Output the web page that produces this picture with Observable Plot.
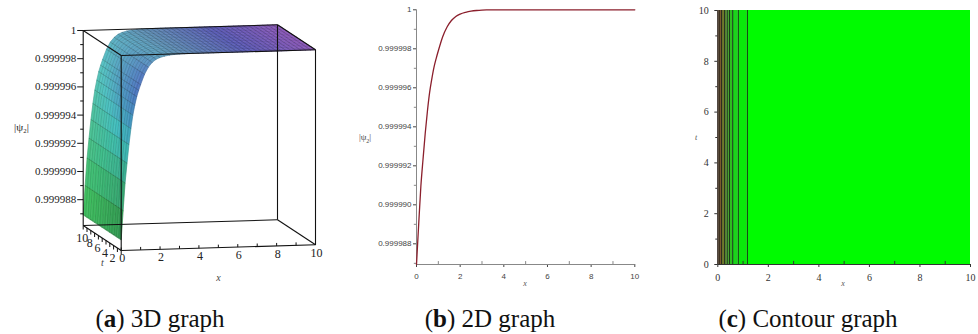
<!DOCTYPE html>
<html><head><meta charset="utf-8">
<script src="https://cdn.jsdelivr.net/npm/d3@7"></script>
<script src="https://cdn.jsdelivr.net/npm/@observablehq/plot@0.6"></script>
<style>
body{margin:0;background:#fff;}
#fig{position:relative;width:978px;height:334px;overflow:hidden;background:#fff;}
.panel{position:absolute;top:0;}
#pa svg text, #pc svg text{font-family:"Liberation Serif" !important;}
#pb svg text{font-family:"Liberation Sans" !important;}
.cap{position:absolute;top:306px;font-family:"Liberation Serif";font-size:25px;line-height:25px;color:#111;white-space:nowrap;transform:translateX(-50%);}
.ttl{position:absolute;font-family:"Liberation Serif";font-style:italic;color:#555;white-space:nowrap;transform:translate(-50%,-50%);}
</style></head><body>
<div id="fig">
 <div class="panel" id="pa" style="left:0px"></div>
 <div class="panel" id="pb" style="left:330px"></div>
 <div class="panel" id="pc" style="left:660px"></div>
 <div class="ttl" style="left:365px;top:138px;font-style:normal;font-size:9px;color:#444">|ψ<sub style="font-size:6px">2</sub>|</div>
 <div class="ttl" style="left:525px;top:283px;font-size:8px">x</div>
 <div class="ttl" style="left:843px;top:283px;font-size:8px">x</div>
 <div class="ttl" style="left:696px;top:137px;font-size:8px">t</div>
 <div class="cap" style="left:160px">(<b>a</b>) 3D graph</div>
 <div class="cap" style="left:490px">(<b>b</b>) 2D graph</div>
 <div class="cap" style="left:808px">(<b>c</b>) Contour graph</div>
</div>
<script>
// ---- data ----
const xVals = [0,0.1,0.2,0.3,0.4,0.5,0.6,0.7,0.8,0.9,1,1.2,1.4,1.6,1.8,2,2.25,2.5,2.75,3,3.25,3.5,3.75,4,4.25,4.5,4.75,5,5.25,5.5,5.75,6,6.25,6.5,6.75,7,7.25,7.5,7.75,8,8.25,8.5,8.75,9,9.25,9.5,9.75,10];
const psiVals = [0.99998694,0.99998900,0.99999095,0.99999235,0.99999367,0.99999480,0.99999575,0.99999645,0.99999705,0.99999750,0.99999790,0.99999862,0.99999912,0.99999945,0.99999966,0.99999978,
 0.99999987,0.99999993,0.999999965,0.999999985,0.999999993,0.999999997,
 1,1,1,1,1,1,1,1,1,1,1,1,1,1,1,1,1,1,1,1,1,1,1,1,1,1];
const psiTicks = [0.999988,0.99999,0.999992,0.999994,0.999996,0.999998,1];
const psiMinor = [0.999987,0.999989,0.999991,0.999993,0.999995,0.999997,0.999999];
const xTicks = [0,2,4,6,8,10];
const xMinor = [1,3,5,7,9];
const tTicks = [0,2,4,6,8,10];
const tLabels3d = [2,4,6,8,10];
const contourX = [0.055,0.15,0.27,0.37,0.46,0.59,0.81,1.17];
const bandColors = ["#6a4426","#7b5a2e","#6f7a2c","#57922a","#41a826","#2dbe20","#1ad41a","#0ae80a","#00fb00"];

const fmt = v => v === 1 ? "1" : v.toFixed(6);
const pts = xVals.map((x,i)=>({x, psi: psiVals[i]}));

// ---------- (a) 3D graph ----------
const P = {ox:120.7, oy:250, sx:19.43, sxy:-0.57, tx:-3.8, ty:-2.5, zs:14.1e6, zlo:0.99998617, zhi:1};
const PX = (x,t)=> P.ox + P.sx*x + P.tx*t;
const PY = (x,t,z)=> P.oy + P.sxy*x + P.ty*t - (z-P.zlo)*P.zs;
function surfColor(x,t,z){
  const zf=(z-P.zlo)/(P.zhi-P.zlo), front=1-t/10;
  const bump=Math.exp(-(((x-0.7)/0.8)**2));
  const h=128+50*zf+9.5*x+55*front*bump*zf;
  const s=0.5-0.12*zf*Math.min(1,x/3)+0.08*Math.min(1,x/10)*zf;
  const l=0.50+0.07*zf-0.12*front*(1-zf);
  return d3.hsl(h,s,l).formatHex();
}
const quads=[]; let qid=0;
const tSteps=d3.range(0,10.001,1);
for(let i=xVals.length-2;i>=0;i--){
  for(let j=tSteps.length-2;j>=0;j--){
    const x0=xVals[i],x1=xVals[i+1],z0=psiVals[i],z1=psiVals[i+1],t0=tSteps[j],t1=tSteps[j+1];
    const c=surfColor((x0+x1)/2,(t0+t1)/2,(z0+z1)/2);
    [[x0,t0,z0],[x1,t0,z1],[x1,t1,z1],[x0,t1,z0]].forEach(([x,t,z])=>quads.push({id:qid,X:PX(x,t),Y:PY(x,t,z),c}));
    qid++;
  }
}
const meshT=[]; d3.range(0,10.001,0.625).forEach((t,k)=>pts.forEach(p=>meshT.push({k,X:PX(p.x,t),Y:PY(p.x,t,p.psi)})));
const meshX=pts.map(p=>({x1:PX(p.x,0),y1:PY(p.x,0,p.psi),x2:PX(p.x,10),y2:PY(p.x,10,p.psi)}));
const C=(x,t,z)=>[PX(x,t),PY(x,t,z)];
const lo=P.zlo, hi=P.zhi;
const edgesDef=[
 [[0,0,lo],[10,0,lo]],[[0,0,hi],[10,0,hi]],[[0,0,lo],[0,0,hi]],[[10,0,lo],[10,0,hi]],
 [[0,10,lo],[10,10,lo]],[[0,10,hi],[10,10,hi]],[[0,10,lo],[0,10,hi]],[[10,10,lo],[10,10,hi]],
 [[0,0,lo],[0,10,lo]],[[10,0,lo],[10,10,lo]],[[0,0,hi],[0,10,hi]],[[10,0,hi],[10,10,hi]]];
const edges=edgesDef.map(([a,b])=>{const p=C(...a),q=C(...b);return {x1:p[0],y1:p[1],x2:q[0],y2:q[1]};});
const zTickMaj=psiTicks.map(v=>({v,X:PX(0,10),Y:PY(0,10,v)}));
const zTickMin=psiMinor.map(v=>({v,X:PX(0,10),Y:PY(0,10,v)}));
const xTick3=d3.range(0,10.001,1).map(x=>({X:PX(x,0),Y:PY(x,0,lo)}));
const xLab3=xTicks.map(x=>({x,X:PX(x,0)+1,Y:PY(x,0,lo)+8}));
const tTick3=d3.range(0,10.001,1).map(t=>({X:PX(0,t),Y:PY(0,t,lo)}));
const tLab3=tLabels3d.map(t=>({t,X:PX(0,t)-1,Y:PY(0,t,lo)+13}));
const plotA=Plot.plot({
  width:330,height:290,margin:0,
  x:{type:"identity",axis:null},y:{type:"identity",axis:null},
  color:{type:"identity"},
  style:{background:"transparent"},
  marks:[
    Plot.line(quads,{x:"X",y:"Y",z:"id",fill:"c",stroke:"c",strokeWidth:0.6,curve:"linear-closed"}),
    Plot.line(meshT,{x:"X",y:"Y",z:"k",stroke:"#000",strokeOpacity:0.18,strokeWidth:0.6,curve:"monotone-x"}),
    Plot.link(meshX,{x1:"x1",y1:"y1",x2:"x2",y2:"y2",stroke:"#000",strokeOpacity:0.35,strokeWidth:0.6}),
    Plot.link(edges,{x1:"x1",y1:"y1",x2:"x2",y2:"y2",stroke:"#111",strokeWidth:1.1}),
    Plot.link(zTickMaj,{x1:d=>d.X-6,x2:"X",y1:"Y",y2:"Y",stroke:"#111"}),
    Plot.link(zTickMin,{x1:d=>d.X-3,x2:"X",y1:"Y",y2:"Y",stroke:"#111"}),
    Plot.text(zTickMaj,{x:d=>d.X-7,y:"Y",text:d=>fmt(d.v),textAnchor:"end",fontSize:11,fill:"#222"}),
    Plot.link(xTick3,{x1:"X",x2:"X",y1:"Y",y2:d=>d.Y-3,stroke:"#111"}),
    Plot.text(xLab3,{x:"X",y:"Y",text:d=>String(d.x),fontSize:12,fill:"#222"}),
    Plot.link(tTick3,{x1:"X",x2:"X",y1:"Y",y2:d=>d.Y+4,stroke:"#111"}),
    Plot.text(tLab3,{x:"X",y:"Y",text:d=>String(d.t),fontSize:12,fill:"#222"}),
    Plot.text(["x"],{x:218,y:277,fontSize:10,fontStyle:"italic",fill:"#444"}),
    Plot.text(["t"],{x:102,y:262,fontSize:10,fontStyle:"italic",fill:"#444"}),
    Plot.text(["|ψ₂|"],{x:21,y:127,fontSize:11,fill:"#222"})
  ]
});
document.getElementById("pa").append(plotA);

// ---------- (b) 2D graph ----------
const yLo=0.99998694;
const plotB=Plot.plot({
  width:330,height:290,marginLeft:86,marginRight:25.7,marginTop:9.3,marginBottom:26,
  style:{background:"transparent",fontSize:"8px",color:"#444"},
  x:{domain:[0,10],ticks:xTicks,tickSize:3,label:null},
  y:{domain:[yLo,1],ticks:psiTicks,tickFormat:fmt,tickSize:3,tickPadding:2,label:null},
  marks:[
    Plot.ruleX([0],{stroke:"#888"}),
    Plot.ruleY([yLo],{stroke:"#888"}),
    Plot.ruleY(psiMinor,{x1:-0.1,x2:0,stroke:"#888"}),
    Plot.ruleX(xMinor,{y1:yLo,y2:yLo+0.15e-6,stroke:"#888"}),
    Plot.line(pts,{x:"x",y:"psi",stroke:"#8b1f2c",strokeWidth:1.3,curve:"monotone-x"})
  ]
});
document.getElementById("pb").append(plotB);

// ---------- (c) Contour graph ----------
const edgesX=[0,...contourX,10];
const bands=bandColors.map((c,i)=>({x1:edgesX[i],x2:edgesX[i+1],c}));
const plotC=Plot.plot({
  width:318,height:290,marginLeft:57.3,marginRight:8,marginTop:10,marginBottom:26,
  style:{background:"transparent",fontSize:"10px",color:"#333"},
  x:{domain:[0,10],ticks:xTicks,tickSize:3,label:null},
  y:{domain:[0,10],ticks:tTicks,tickSize:3,label:null},
  color:{type:"identity"},
  marks:[
    Plot.rect(bands,{x1:"x1",x2:"x2",y1:0,y2:10,fill:"c"}),
    Plot.ruleX(contourX,{y1:0,y2:10,stroke:"#1b1b1b",strokeWidth:0.9}),
    Plot.ruleX([0],{stroke:"#333"}),
    Plot.ruleY([0],{stroke:"#333"}),
    Plot.ruleY([1,3,5,7,9],{x1:-0.08,x2:0,stroke:"#333"}),
    Plot.ruleX(xMinor,{y1:0,y2:0.12,stroke:"#333"})
  ]
});
document.getElementById("pc").append(plotC);
</script>
</body></html>
